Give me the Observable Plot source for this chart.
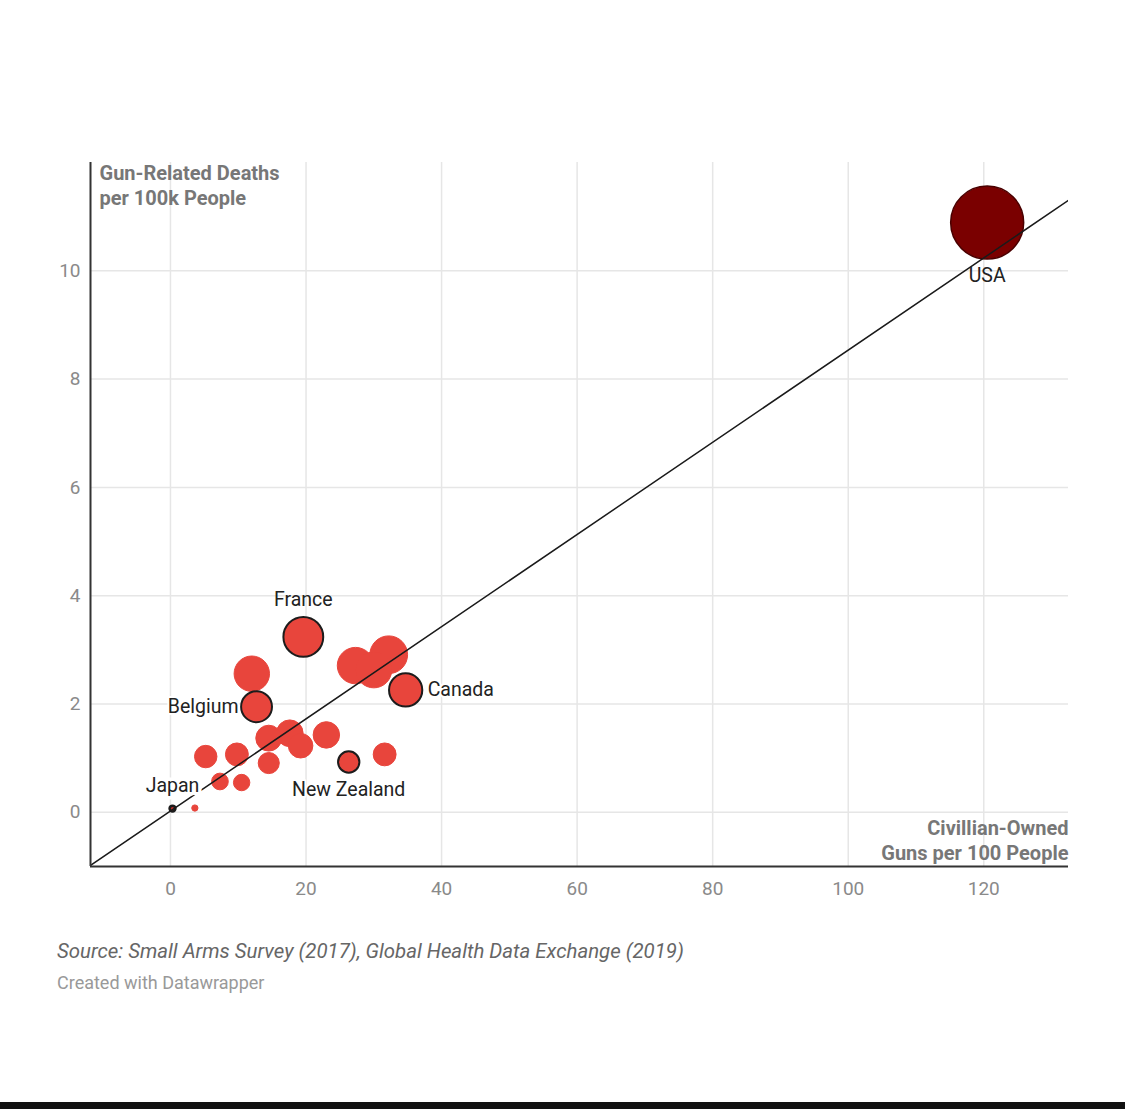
<!DOCTYPE html>
<html>
<head>
<meta charset="utf-8">
<script src="https://cdn.jsdelivr.net/npm/d3@7"></script>
<script src="https://cdn.jsdelivr.net/npm/@observablehq/plot@0.6"></script>
<style>
  html, body { margin: 0; padding: 0; background: #fff; }
  body { width: 1125px; height: 1109px; position: relative; overflow: hidden; font-family: Roboto, "Noto Sans", sans-serif; }
  #chart { position: absolute; left: 0; top: 0; }
  #source { position: absolute; left: 57px; top: 939px; font-size: 20.4px; font-style: italic; color: #666; }
  #credit { position: absolute; left: 57px; top: 972px; font-size: 18px; color: #999; }
  #bar { position: absolute; left: 0; top: 1102px; width: 1125px; height: 7px; background: #111; }
</style>
</head>
<body>
<div id="chart"></div>
<div id="source">Source: Small Arms Survey (2017), Global Health Data Exchange (2019)</div>
<div id="credit">Created with Datawrapper</div>
<div id="bar"></div>
<script>
// Country labels ("" = unlabeled bubble)
const countries = ["Japan", "", "", "", "", "", "", "Belgium", "France", "", "", "", "", "", "New Zealand", "", "", "", "", "Canada", "USA"];
// Civilian-owned guns per 100 people
const guns = [0.3, 3.6, 5.2, 7.3, 10.5, 9.8, 12.0, 12.7, 19.6, 14.5, 14.5, 17.6, 19.2, 23.0, 26.3, 31.6, 27.3, 30.0, 32.2, 34.7, 120.5];
// Gun-related deaths per 100k people
const deaths = [0.07, 0.08, 1.03, 0.57, 0.55, 1.07, 2.56, 1.95, 3.24, 1.37, 0.91, 1.46, 1.23, 1.43, 0.93, 1.07, 2.71, 2.63, 2.91, 2.26, 10.89];
// Trend line end points
const trendGuns = [-11.8, 132.6];
const trendDeaths = [-0.98, 11.31];
// Axis ticks
const xTicks = [0, 20, 40, 60, 80, 100, 120];
const yTicks = [0, 2, 4, 6, 8, 10];

const data = countries.map((c, i) => ({name: c, guns: guns[i], deaths: deaths[i]}));
const trend = trendGuns.map((g, i) => ({guns: g, deaths: trendDeaths[i]}));
const outlined = ["Japan", "Belgium", "France", "New Zealand", "Canada"];

const plain = data.filter(d => !outlined.includes(d.name) && d.name !== "USA");
const ringed = data.filter(d => outlined.includes(d.name) && d.name !== "Japan");
const japan = data.filter(d => d.name === "Japan");
const usa = data.filter(d => d.name === "USA");
const lab = n => data.filter(d => d.name === n);

const xMin = -11.8, yMin = -1;
const font = "Roboto, 'Noto Sans', sans-serif";
const labelSize = 19.5;

const chart = Plot.plot({
  width: 1125,
  height: 915,
  marginLeft: 90,
  marginRight: 57,
  marginTop: 162,
  marginBottom: 49,
  style: {fontFamily: font, background: "white", overflow: "visible"},
  x: {domain: [xMin, 132.5], ticks: xTicks},
  y: {domain: [yMin, 12], ticks: yTicks},
  r: {type: "sqrt", domain: [0, 10.89], range: [0, 36.5]},
  marks: [
    Plot.gridX(xTicks, {stroke: "#e6e6e6", strokeOpacity: 1, strokeWidth: 1.5}),
    Plot.gridY(yTicks, {stroke: "#e6e6e6", strokeOpacity: 1, strokeWidth: 1.5}),
    Plot.axisX(xTicks, {tickSize: 0, tickPadding: 15, fontSize: 19, fill: "#8a8a8a", label: null, tickFormat: d3.format("d")}),
    Plot.axisY(yTicks, {tickSize: 0, tickPadding: 10, fontSize: 19, fill: "#8a8a8a", label: null, tickFormat: d3.format("d")}),
    Plot.text(["Gun-Related Deaths\nper 100k People"], {frameAnchor: "top-left", dx: 9, dy: 0, fontSize: 20, fontWeight: "bold", fill: "#777", lineHeight: 1.25, textAnchor: "start"}),
    Plot.text(["Civillian-Owned\nGuns per 100 People"], {frameAnchor: "bottom-right", dx: 0, dy: -7, fontSize: 20, fontWeight: "bold", fill: "#777", lineHeight: 1.25, textAnchor: "end"}),
    Plot.dot(plain, {x: "guns", y: "deaths", r: "deaths", fill: "#e8453c", stroke: "#e8453c", strokeWidth: 1}),
    Plot.dot(ringed, {x: "guns", y: "deaths", r: "deaths", fill: "#e8453c", stroke: "#1c1c1c", strokeWidth: 2}),
    Plot.dot(japan, {x: "guns", y: "deaths", r: "deaths", fill: "#c0302a", stroke: "#1c1c1c", strokeWidth: 2.5}),
    Plot.dot(usa, {x: "guns", y: "deaths", r: "deaths", fill: "#7a0000", stroke: "#4a0000", strokeWidth: 1.5}),
    Plot.line(trend, {x: "guns", y: "deaths", stroke: "#1a1a1a", strokeWidth: 1.5, clip: true}),
    Plot.ruleX([xMin], {stroke: "#333", strokeWidth: 2}),
    Plot.ruleY([yMin], {stroke: "#333", strokeWidth: 2}),
    Plot.text(lab("France"), {x: "guns", y: "deaths", text: "name", dy: -37, fontSize: labelSize, fill: "#222", textAnchor: "middle"}),
    Plot.text(lab("Belgium"), {x: "guns", y: "deaths", text: "name", dx: -18, fontSize: labelSize, fill: "#222", textAnchor: "end", stroke: "white", strokeWidth: 4}),
    Plot.text(lab("Canada"), {x: "guns", y: "deaths", text: "name", dx: 22, fontSize: labelSize, fill: "#222", textAnchor: "start", stroke: "white", strokeWidth: 4}),
    Plot.text(lab("New Zealand"), {x: "guns", y: "deaths", text: "name", dy: 28, fontSize: labelSize, fill: "#222", textAnchor: "middle", stroke: "white", strokeWidth: 4}),
    Plot.text(lab("Japan"), {x: "guns", y: "deaths", text: "name", dy: -23, fontSize: labelSize, fill: "#222", textAnchor: "middle", stroke: "white", strokeWidth: 7}),
    Plot.text(lab("USA"), {x: "guns", y: "deaths", text: "name", dy: 53, fontSize: labelSize, fill: "#222", textAnchor: "middle"})
  ]
});
document.getElementById("chart").appendChild(chart);
</script>
</body>
</html>
